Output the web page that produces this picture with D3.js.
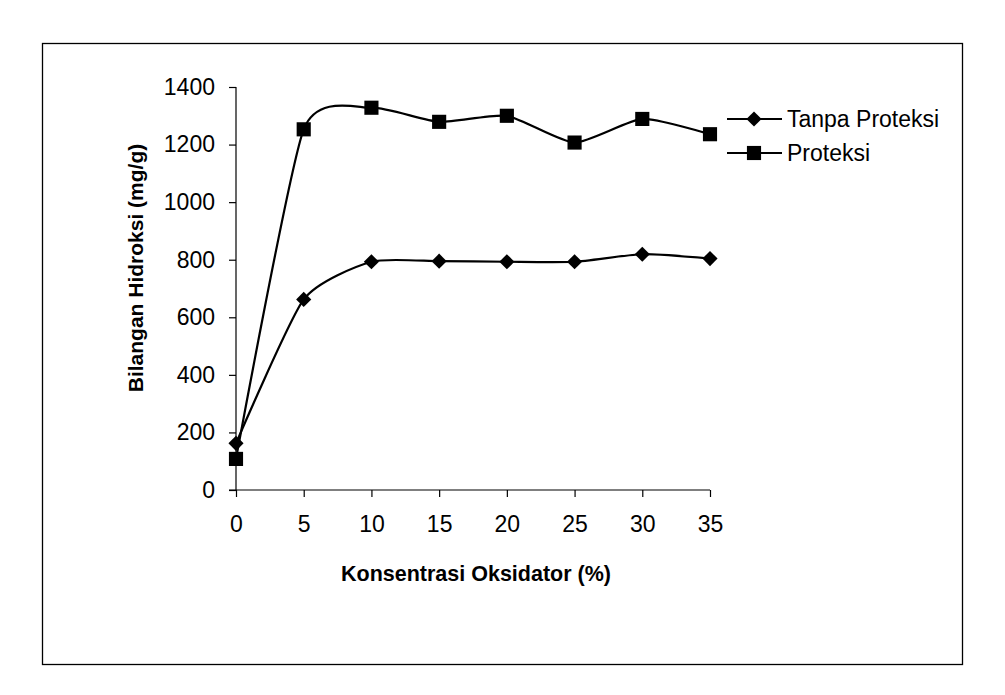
<!DOCTYPE html>
<html>
<head>
<meta charset="utf-8">
<script src="https://cdn.jsdelivr.net/npm/d3@7"></script>
<style>
  body { margin: 0; background: #fff; }
  text { font-family: "Liberation Sans", Arial, sans-serif; fill: #000; }
</style>
</head>
<body>
<div id="root"></div>
<script>
const konsentrasi = [0, 5, 10, 15, 20, 25, 30, 35]
const tanpaProteksi = [162, 662, 793, 795, 793, 793, 819, 804]
const proteksi = [108, 1253, 1328, 1279, 1300, 1207, 1289, 1236]
const yTicks = [0, 200, 400, 600, 800, 1000, 1200, 1400]
const seriesNames = ["Tanpa Proteksi", "Proteksi"]

const w = 1005, h = 695

//scales
const x = d3.scaleLinear().domain([0, 35]).range([236, 710])
const y = d3.scaleLinear().domain([0, 1400]).range([490, 87])

const svg = d3.select("#root").append("svg")
    .attr("width", w)
    .attr("height", h)

// outer frame
svg.append("rect")
    .attr("x", 42.5).attr("y", 43.5)
    .attr("width", 920).attr("height", 621)
    .attr("fill", "none")
    .attr("stroke", "#000")
    .attr("stroke-width", 1.3)

// axes
const xAxis = svg.append("g")
    .attr("transform", `translate(0,${y(0)})`)
    .call(d3.axisBottom(x).tickValues(konsentrasi).tickSize(7).tickPadding(19).tickFormat(d3.format("d")))
const yAxis = svg.append("g")
    .attr("transform", `translate(${x(0)},0)`)
    .call(d3.axisLeft(y).tickValues(yTicks).tickSize(7).tickPadding(14).tickFormat(d3.format("d")))

;[xAxis, yAxis].forEach(g => {
    g.select(".domain").attr("stroke", "#000").attr("stroke-width", 1.2)
    g.selectAll(".tick line").attr("stroke", "#000").attr("stroke-width", 1.2)
    g.selectAll("text")
        .attr("font-family", "Liberation Sans, Arial, sans-serif")
        .attr("font-size", 23)
        .attr("fill", "#000")
})
// plain axis lines, no outer ticks
yAxis.select(".domain").attr("d", `M0,${y(0)}V${y(1400)}`)
xAxis.select(".domain").attr("d", `M${x(0) - 7},0H${x(35)}`)

// axis titles
svg.append("text")
    .attr("x", (x(0) + x(35)) / 2 + 3)
    .attr("y", 581)
    .attr("text-anchor", "middle")
    .attr("font-size", 21.5)
    .attr("font-weight", "bold")
    .text("Konsentrasi Oksidator (%)")

svg.append("text")
    .attr("transform", "translate(143,268) rotate(-90)")
    .attr("text-anchor", "middle")
    .attr("font-size", 21)
    .attr("font-weight", "bold")
    .text("Bilangan Hidroksi (mg/g)")

// lines
const line = d3.line()
    .x(d => x(d[0]))
    .y(d => y(d[1]))
    .curve(d3.curveCardinal.tension(0.4))

// diamond = square turned 45 degrees
const series = [
    {name: seriesNames[0], values: tanpaProteksi, size: 115, rot: 45},
    {name: seriesNames[1], values: proteksi, size: 200, rot: 0}
]

series.forEach(s => {
    const pts = konsentrasi.map((k, i) => [k, s.values[i]])
    svg.append("path")
        .attr("d", line(pts))
        .attr("fill", "none")
        .attr("stroke", "#000")
        .attr("stroke-width", 2.2)
    svg.selectAll(null)
        .data(pts)
        .join("path")
        .attr("transform", d => `translate(${x(d[0])},${y(d[1])}) rotate(${s.rot})`)
        .attr("d", d3.symbol().type(d3.symbolSquare).size(s.size))
        .attr("fill", "#000")
})

// legend
const legend = svg.append("g").attr("transform", "translate(727,119)")
series.forEach((s, i) => {
    const g = legend.append("g").attr("transform", `translate(0,${i * 34})`)
    g.append("line")
        .attr("x1", 0).attr("x2", 55)
        .attr("stroke", "#000").attr("stroke-width", 2.2)
    g.append("path")
        .attr("transform", `translate(27,0) rotate(${s.rot})`)
        .attr("d", d3.symbol().type(d3.symbolSquare).size(s.size))
        .attr("fill", "#000")
    g.append("text")
        .attr("x", 60)
        .attr("dy", "0.35em")
        .attr("font-size", 23)
        .text(s.name)
})
</script>
</body>
</html>
